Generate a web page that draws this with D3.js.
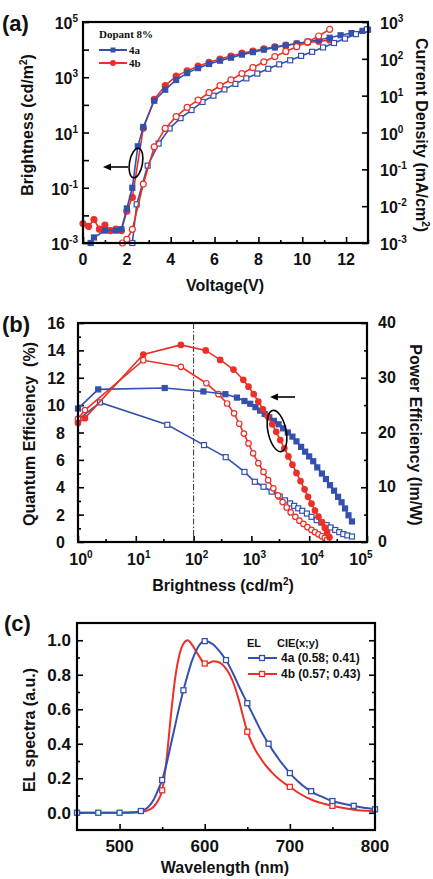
<!DOCTYPE html>
<html>
<head>
<meta charset="utf-8">
<script src="https://cdn.jsdelivr.net/npm/d3@7"></script>
<style>
  body { margin: 0; background: #fff; }
  text { font-family: "Liberation Sans", Arial, sans-serif; font-weight: bold; fill: #111; }
</style>
</head>
<body>
<div id="chart"></div>
<script>
// ---- panel (a): voltage (V) vs log10 brightness / log10 current density ----
var volt4a = [0.35, 0.5, 1.0, 1.5, 1.75, 2.0, 2.25, 2.5, 2.75, 3.25, 3.75, 4.25, 4.75, 5.25, 5.75, 6.25, 6.75, 7.25, 7.75, 8.25, 8.75, 9.25, 9.75, 10.25, 10.75, 11.25, 11.75, 12.25, 12.75, 13.0];
var brightExp4a = [-3.0, -2.8, -2.55, -2.55, -2.5, -1.75, -1.0, 0.5, 1.2, 2.15, 2.55, 2.9, 3.15, 3.33, 3.48, 3.6, 3.71, 3.82, 3.91, 4.0, 4.08, 4.15, 4.22, 4.29, 4.36, 4.43, 4.52, 4.6, 4.68, 4.72];
var volt4b = [0, 0.25, 0.5, 0.75, 1.0, 1.25, 1.5, 1.75, 2.0, 2.25, 2.75, 3.25, 3.75, 4.25, 4.75, 5.25, 5.75, 6.25, 6.75, 7.25, 7.75, 8.25, 8.75, 9.25, 9.75, 10.25, 10.75, 11.25];
var brightExp4b = [-2.3, -2.4, -2.15, -2.5, -2.35, -2.55, -2.5, -2.55, -1.85, -1.35, 1.15, 2.2, 2.7, 3.04, 3.23, 3.4, 3.54, 3.66, 3.77, 3.87, 3.95, 4.03, 4.1, 4.16, 4.21, 4.26, 4.3, 4.35];
var voltJ4a = [2.25, 2.45, 2.95, 3.45, 3.95, 4.45, 4.95, 5.45, 5.95, 6.45, 6.95, 7.45, 7.95, 8.45, 8.95, 9.45, 9.95, 10.45, 10.95, 11.45, 11.95, 12.45, 12.95];
var currExp4a = [-3.0, -1.95, -0.9, -0.3, 0.11, 0.39, 0.61, 0.83, 1.0, 1.17, 1.32, 1.47, 1.6, 1.73, 1.85, 1.96, 2.08, 2.19, 2.31, 2.43, 2.55, 2.67, 2.8];
var voltJ4b = [1.8, 2.0, 2.25, 2.75, 3.25, 3.75, 4.25, 4.75, 5.25, 5.75, 6.25, 6.75, 7.25, 7.75, 8.25, 8.75, 9.25, 9.75, 10.25, 10.75, 11.25];
var currExp4b = [-3.0, -2.9, -2.63, -1.4, -0.39, 0.11, 0.43, 0.68, 0.88, 1.08, 1.27, 1.43, 1.6, 1.76, 1.92, 2.06, 2.2, 2.33, 2.46, 2.62, 2.8];

// ---- panel (b): log10 brightness vs quantum / power efficiency ----
var qeLogB4a = [0.0, 0.35, 1.5, 2.17, 2.55, 2.75, 2.88, 2.98, 3.07, 3.15, 3.23, 3.31, 3.39, 3.47, 3.55, 3.63, 3.71, 3.78, 3.86, 3.93, 4.0, 4.07, 4.14, 4.22, 4.29, 4.36, 4.43, 4.5, 4.56, 4.62, 4.68, 4.74];
var qe4a = [9.75, 11.15, 11.25, 11.0, 10.8, 10.55, 10.3, 10.1, 9.85, 9.6, 9.35, 9.1, 8.85, 8.6, 8.3, 8.0, 7.7, 7.35, 6.95, 6.6, 6.25, 5.9, 5.45, 5.0, 4.6, 4.15, 3.75, 3.3, 2.9, 2.45, 1.95, 1.5];
var qeLogB4b = [0.0, 0.12, 1.13, 1.78, 2.21, 2.46, 2.69, 2.86, 2.95, 3.04, 3.12, 3.2, 3.28, 3.36, 3.43, 3.5, 3.57, 3.64, 3.71, 3.78, 3.85, 3.92, 3.98, 4.04, 4.1, 4.16, 4.22, 4.27, 4.31, 4.35];
var qe4b = [8.7, 9.05, 13.7, 14.4, 14.0, 13.3, 12.6, 11.85, 11.35, 10.8, 10.25, 9.7, 9.2, 8.6, 8.05, 7.45, 6.85, 6.25, 5.65, 5.05, 4.45, 3.85, 3.3, 2.8, 2.3, 1.85, 1.45, 1.05, 0.7, 0.35];
var peLogB4a = [0.0, 0.38, 1.545, 2.18, 2.555, 2.88, 3.06, 3.21, 3.35, 3.49, 3.58, 3.67, 3.74, 3.81, 3.88, 3.96, 4.04, 4.13, 4.21, 4.3, 4.37, 4.45, 4.52, 4.59, 4.66, 4.74];
var pe4a = [22.3, 25.5, 21.4, 17.7, 15.5, 12.8, 11.0, 10.1, 9.2, 8.3, 7.6, 7.05, 6.6, 6.15, 5.7, 5.2, 4.6, 4.0, 3.55, 3.1, 2.65, 2.2, 1.8, 1.45, 1.2, 1.0];
var peLogB4b = [0.0, 0.12, 1.13, 1.78, 2.22, 2.43, 2.58, 2.7, 2.79, 2.87, 2.95, 3.03, 3.12, 3.21, 3.29, 3.38, 3.46, 3.54, 3.61, 3.68, 3.76, 3.83, 3.9, 3.97, 4.04, 4.1, 4.16, 4.22, 4.27, 4.31];
var pe4b = [22.5, 24.1, 33.2, 32.0, 29.0, 27.0, 25.3, 23.5, 21.6, 19.8, 18.0, 16.2, 14.4, 12.8, 11.3, 9.8, 8.5, 7.3, 6.3, 5.4, 4.6, 3.9, 3.3, 2.7, 2.2, 1.8, 1.4, 1.05, 0.75, 0.45];

// ---- panel (c): EL spectra ----
var wave = [450, 475, 500, 510, 520, 525, 530, 535, 540, 545, 550, 555, 560, 565, 570, 575, 580, 585, 590, 595, 600, 605, 610, 615, 620, 625, 630, 635, 640, 645, 650, 655, 660, 665, 670, 675, 680, 685, 690, 695, 700, 710, 720, 725, 730, 740, 750, 760, 770, 775, 780, 790, 800];
var el4a = [0, 0, 0, 0.002, 0.005, 0.01, 0.02, 0.04, 0.075, 0.13, 0.19, 0.28, 0.39, 0.5, 0.61, 0.71, 0.8, 0.88, 0.94, 0.98, 0.995, 0.99, 0.975, 0.95, 0.92, 0.885, 0.84, 0.79, 0.735, 0.685, 0.635, 0.585, 0.535, 0.485, 0.44, 0.4, 0.36, 0.325, 0.29, 0.26, 0.23, 0.18, 0.14, 0.125, 0.11, 0.088, 0.068, 0.055, 0.045, 0.04, 0.035, 0.027, 0.02];
var el4b = [0, 0, 0, 0, 0.002, 0.004, 0.008, 0.018, 0.035, 0.07, 0.13, 0.3, 0.55, 0.77, 0.91, 0.98, 1.0, 0.975, 0.935, 0.895, 0.865, 0.868, 0.878, 0.876, 0.862, 0.835, 0.795, 0.735, 0.655, 0.56, 0.47, 0.41, 0.36, 0.32, 0.285, 0.255, 0.228, 0.204, 0.184, 0.166, 0.15, 0.116, 0.088, 0.077, 0.067, 0.052, 0.04, 0.03, 0.022, 0.018, 0.015, 0.011, 0.008];
var markWave4a = [450, 475, 500, 525, 550, 575, 600, 625, 650, 675, 700, 725, 750, 775, 800];
var markWave4b = [550, 600, 650, 700, 750];

var BLUE = "#3350ae";
var RED = "#ec3027";

var svg = d3.select("#chart")
  .append("svg")
  .attr("width", 433)
  .attr("height", 879);

svg.append("rect").attr("width", 433).attr("height", 879).attr("fill", "#fff");

// inward tick marks, no domain line
function ticks(g, axis, vals, len) {
  g.call(axis.tickValues(vals).tickSize(-len).tickFormat(""));
  g.select(".domain").remove();
  g.selectAll("line").attr("stroke", "#000").attr("stroke-width", 1.6);
}

function powLabel(txt, e) {
  txt.append("tspan").text("10");
  txt.append("tspan").attr("dy", -7).attr("font-size", 10).text(e);
}

function frame(g, w, h) {
  g.append("rect").attr("width", w).attr("height", h)
    .attr("fill", "none").attr("stroke", "#000").attr("stroke-width", 2.2);
}

function series(g, pts, x, y, color, shape, filled, size, lw) {
  g.append("path").datum(pts)
    .attr("fill", "none").attr("stroke", color).attr("stroke-width", lw)
    .attr("d", d3.line().x(d => x(d[0])).y(d => y(d[1])));
  var m = g.append("g").selectAll(shape === "sq" ? "rect" : "circle").data(pts).enter();
  if (shape === "sq") {
    m.append("rect")
      .attr("x", d => x(d[0]) - size / 2).attr("y", d => y(d[1]) - size / 2)
      .attr("width", size).attr("height", size)
      .attr("fill", filled ? color : "#fff").attr("stroke", color).attr("stroke-width", 1.2);
  } else {
    m.append("circle")
      .attr("cx", d => x(d[0])).attr("cy", d => y(d[1])).attr("r", size / 2)
      .attr("fill", filled ? color : "#fff").attr("stroke", color).attr("stroke-width", 1.2);
  }
}

function arrow(x1, x2, y) {
  svg.append("line").attr("x1", x1).attr("x2", x2 + 6).attr("y1", y).attr("y2", y)
    .attr("stroke", "#000").attr("stroke-width", 1.6);
  svg.append("path").attr("d", `M${x2},${y} l8,-3.5 l0,7 z`).attr("fill", "#000");
}

// =================== (a) ===================
var wA = 285, hA = 221;
var gA = svg.append("g").attr("transform", "translate(83, 22)");
var xA = d3.scaleLinear().domain([0, 13]).range([0, wA]);
var yA = d3.scaleLog().domain([1e-3, 1e5]).range([hA, 0]);
var yA2 = d3.scaleLog().domain([1e-3, 1e3]).range([hA, 0]);

ticks(gA.append("g").attr("transform", `translate(0, ${hA})`), d3.axisBottom(xA), [0, 2, 4, 6, 8, 10, 12], 6);
ticks(gA.append("g").attr("transform", `translate(0, ${hA})`), d3.axisBottom(xA), [1, 3, 5, 7, 9, 11, 13], 3);
ticks(gA.append("g"), d3.axisLeft(yA), [1e-3, 1e-2, 1e-1, 1, 1e1, 1e2, 1e3, 1e4, 1e5], 6);
ticks(gA.append("g").attr("transform", `translate(${wA}, 0)`), d3.axisRight(yA2), [1e-3, 1e-2, 1e-1, 1, 1e1, 1e2, 1e3], 6);

gA.append("g").selectAll("text").data([0, 2, 4, 6, 8, 10, 12]).enter().append("text")
  .attr("x", d => xA(d)).attr("y", hA + 22).attr("text-anchor", "middle")
  .attr("font-size", 16).text(d => d);
[-3, -1, 1, 3, 5].forEach(function(e) {
  powLabel(gA.append("text").attr("x", -5).attr("y", yA(Math.pow(10, e)) + 7)
    .attr("text-anchor", "end").attr("font-size", 16), e);
});
[-3, -2, -1, 0, 1, 2, 3].forEach(function(e) {
  powLabel(gA.append("text").attr("x", wA + 12).attr("y", yA2(Math.pow(10, e)) + 7)
    .attr("font-size", 16), e);
});

series(gA, volt4b.map((v, i) => [v, Math.pow(10, brightExp4b[i])]), xA, yA, RED, "ci", true, 6, 1.6);
series(gA, volt4a.map((v, i) => [v, Math.pow(10, brightExp4a[i])]), xA, yA, BLUE, "sq", true, 5, 1.6);
series(gA, voltJ4a.map((v, i) => [v, Math.pow(10, currExp4a[i])]), xA, yA2, BLUE, "sq", false, 5, 1.6);
series(gA, voltJ4b.map((v, i) => [v, Math.pow(10, currExp4b[i])]), xA, yA2, RED, "ci", false, 6, 1.6);
frame(gA, wA, hA);

// legend (a)
svg.append("text").attr("x", 99).attr("y", 38)
  .style("font-family", "'Liberation Serif', serif").attr("font-size", 11).text("Dopant 8%");
[["4a", BLUE, 50, "sq"], ["4b", RED, 63, "ci"]].forEach(function(l) {
  svg.append("line").attr("x1", 99).attr("x2", 127).attr("y1", l[2]).attr("y2", l[2])
    .attr("stroke", l[1]).attr("stroke-width", 2);
  if (l[3] === "sq") svg.append("rect").attr("x", 110.5).attr("y", l[2] - 2.5).attr("width", 5).attr("height", 5).attr("fill", l[1]);
  else svg.append("circle").attr("cx", 113).attr("cy", l[2]).attr("r", 3).attr("fill", l[1]);
  svg.append("text").attr("x", 129).attr("y", l[2] + 4)
    .style("font-family", "'Liberation Serif', serif").attr("font-size", 11).text(l[0]);
});

arrow(128, 103, 167);
svg.append("ellipse").attr("transform", "translate(136, 163) rotate(10)")
  .attr("rx", 6.5).attr("ry", 15).attr("fill", "none").attr("stroke", "#000").attr("stroke-width", 1.6);

svg.append("text").attr("x", 2).attr("y", 31).attr("font-size", 22).text("(a)");
svg.append("text").attr("x", 225).attr("y", 291).attr("text-anchor", "middle").attr("font-size", 16).text("Voltage(V)");
var tA = svg.append("text").attr("transform", "translate(33, 125) rotate(-90)")
  .attr("text-anchor", "middle").attr("font-size", 16);
tA.append("tspan").text("Brightness (cd/m");
tA.append("tspan").attr("dy", -6).attr("font-size", 10).text("2");
tA.append("tspan").attr("dy", 6).text(")");
var tA2 = svg.append("text").attr("transform", "translate(416, 135) rotate(90)")
  .attr("text-anchor", "middle").attr("font-size", 16);
tA2.append("tspan").text("Current Density (mA/cm");
tA2.append("tspan").attr("dy", -6).attr("font-size", 10).text("2");
tA2.append("tspan").attr("dy", 6).text(")");

// =================== (b) ===================
var wB = 289, hB = 219;
var gB = svg.append("g").attr("transform", "translate(78, 323)");
var xB = d3.scaleLog().domain([1, 1e5]).range([0, wB]);
var yB = d3.scaleLinear().domain([0, 16]).range([hB, 0]);
var yB2 = d3.scaleLinear().domain([0, 40]).range([hB, 0]);

ticks(gB.append("g").attr("transform", `translate(0, ${hB})`), d3.axisBottom(xB), [1, 10, 100, 1e3, 1e4, 1e5], 6);
ticks(gB.append("g").attr("transform", `translate(0, ${hB})`), d3.axisBottom(xB), [3, 30, 300, 3e3, 3e4], 3);
ticks(gB.append("g"), d3.axisLeft(yB), d3.range(0, 17, 2), 6);
ticks(gB.append("g"), d3.axisLeft(yB), d3.range(1, 16, 2), 3);
ticks(gB.append("g").attr("transform", `translate(${wB}, 0)`), d3.axisRight(yB2), d3.range(0, 41, 10), 6);
ticks(gB.append("g").attr("transform", `translate(${wB}, 0)`), d3.axisRight(yB2), d3.range(5, 40, 10), 3);

[0, 1, 2, 3, 4, 5].forEach(function(e) {
  powLabel(gB.append("text").attr("x", xB(Math.pow(10, e)) + (e === 5 ? -6 : 3)).attr("y", hB + 23)
    .attr("text-anchor", "middle").attr("font-size", 16), e);
});
gB.append("g").selectAll("text").data(d3.range(0, 17, 2)).enter().append("text")
  .attr("x", -13).attr("y", d => yB(d) + 6).attr("text-anchor", "end").attr("font-size", 16).text(d => d);
gB.append("g").selectAll("text").data(d3.range(0, 41, 10)).enter().append("text")
  .attr("x", wB + 11).attr("y", d => yB2(d) + 5).attr("font-size", 16).text(d => d);

gB.append("line").attr("x1", xB(100)).attr("x2", xB(100)).attr("y1", 0).attr("y2", hB)
  .attr("stroke", "#333").attr("stroke-width", 1).attr("stroke-dasharray", "6,2,1.5,2");

series(gB, peLogB4a.map((v, i) => [Math.pow(10, v), pe4a[i]]), xB, yB2, BLUE, "sq", false, 5, 1.6);
series(gB, peLogB4b.map((v, i) => [Math.pow(10, v), pe4b[i]]), xB, yB2, RED, "ci", false, 5.5, 1.6);
series(gB, qeLogB4a.map((v, i) => [Math.pow(10, v), qe4a[i]]), xB, yB, BLUE, "sq", true, 5, 1.6);
series(gB, qeLogB4b.map((v, i) => [Math.pow(10, v), qe4b[i]]), xB, yB, RED, "ci", true, 5.5, 1.6);
frame(gB, wB, hB);

arrow(295, 270, 397);
svg.append("ellipse").attr("transform", "translate(277, 431) rotate(-12)")
  .attr("rx", 9).attr("ry", 21).attr("fill", "none").attr("stroke", "#000").attr("stroke-width", 1.6);

svg.append("text").attr("x", 2).attr("y", 332).attr("font-size", 22).text("(b)");
var tB = svg.append("text").attr("x", 223).attr("y", 591).attr("text-anchor", "middle").attr("font-size", 16);
tB.append("tspan").text("Brightness (cd/m");
tB.append("tspan").attr("dy", -6).attr("font-size", 10).text("2");
tB.append("tspan").attr("dy", 6).text(")");
svg.append("text").attr("transform", "translate(35, 434) rotate(-90)")
  .attr("text-anchor", "middle").attr("font-size", 16).text("Quantum Efficiency\u00a0\u00a0(%)");
svg.append("text").attr("transform", "translate(410, 435) rotate(90)")
  .attr("text-anchor", "middle").attr("font-size", 16).text("Power Efficiency (lm/W)");

// =================== (c) ===================
var wC = 298, hC = 207;
var gC = svg.append("g").attr("transform", "translate(77, 623)");
var xC = d3.scaleLinear().domain([450, 800]).range([0, wC]);
var yC = d3.scaleLinear().domain([-0.1, 1.1]).range([hC, 0]);

ticks(gC.append("g").attr("transform", `translate(0, ${hC})`), d3.axisBottom(xC), [500, 600, 700], 6);
ticks(gC.append("g").attr("transform", `translate(0, ${hC})`), d3.axisBottom(xC), [550, 650, 750], 3);
ticks(gC.append("g"), d3.axisLeft(yC), [0, 0.2, 0.4, 0.6, 0.8, 1.0], 6);
ticks(gC.append("g"), d3.axisLeft(yC), [0.1, 0.3, 0.5, 0.7, 0.9], 3);
ticks(gC.append("g").attr("transform", `translate(${wC}, 0)`), d3.axisRight(yC), [0, 0.2, 0.4, 0.6, 0.8, 1.0], 6);
ticks(gC.append("g").attr("transform", `translate(${wC}, 0)`), d3.axisRight(yC), [0.1, 0.3, 0.5, 0.7, 0.9], 3);

gC.append("g").selectAll("text").data([500, 600, 700, 800]).enter().append("text")
  .attr("x", d => xC(d)).attr("y", hC + 22).attr("text-anchor", "middle").attr("font-size", 17).text(d => d);
gC.append("g").selectAll("text").data([0, 0.2, 0.4, 0.6, 0.8, 1.0]).enter().append("text")
  .attr("x", -6).attr("y", d => yC(d) + 6).attr("text-anchor", "end").attr("font-size", 17).text(d => d.toFixed(1));

var spec = [[el4b, markWave4b, RED], [el4a, markWave4a, BLUE]];
spec.forEach(function(s) {
  var pts = wave.map((w, i) => [w, s[0][i]]);
  gC.append("path").datum(pts)
    .attr("fill", "none").attr("stroke", s[2]).attr("stroke-width", 2)
    .attr("d", d3.line().curve(d3.curveMonotoneX).x(d => xC(d[0])).y(d => yC(d[1])));
  gC.append("g").selectAll("rect").data(pts.filter(d => s[1].indexOf(d[0]) >= 0)).enter().append("rect")
    .attr("x", d => xC(d[0]) - 2.5).attr("y", d => yC(d[1]) - 2.5)
    .attr("width", 5).attr("height", 5)
    .attr("fill", "#fff").attr("stroke", s[2]).attr("stroke-width", 1.3);
});
frame(gC, wC, hC);

// legend (c)
svg.append("text").attr("x", 247).attr("y", 647).attr("font-size", 11).text("EL");
svg.append("text").attr("x", 277).attr("y", 647).attr("font-size", 11).text("CIE(x;y)");
[["4a (0.58; 0.41)", BLUE, 658], ["4b (0.57; 0.43)", RED, 674]].forEach(function(l) {
  svg.append("line").attr("x1", 248).attr("x2", 277).attr("y1", l[2]).attr("y2", l[2])
    .attr("stroke", l[1]).attr("stroke-width", 2);
  svg.append("rect").attr("x", 259.5).attr("y", l[2] - 2.5).attr("width", 5).attr("height", 5)
    .attr("fill", "#fff").attr("stroke", l[1]).attr("stroke-width", 1.3);
  svg.append("text").attr("x", 281).attr("y", l[2] + 4).attr("font-size", 12).text(l[0]);
});

svg.append("text").attr("x", 4).attr("y", 631).attr("font-size", 22).text("(c)");
svg.append("text").attr("x", 225).attr("y", 873).attr("text-anchor", "middle").attr("font-size", 16).text("Wavelength (nm)");
svg.append("text").attr("transform", "translate(35, 730) rotate(-90)")
  .attr("text-anchor", "middle").attr("font-size", 16).text("EL spectra (a.u.)");
</script>
</body>
</html>
